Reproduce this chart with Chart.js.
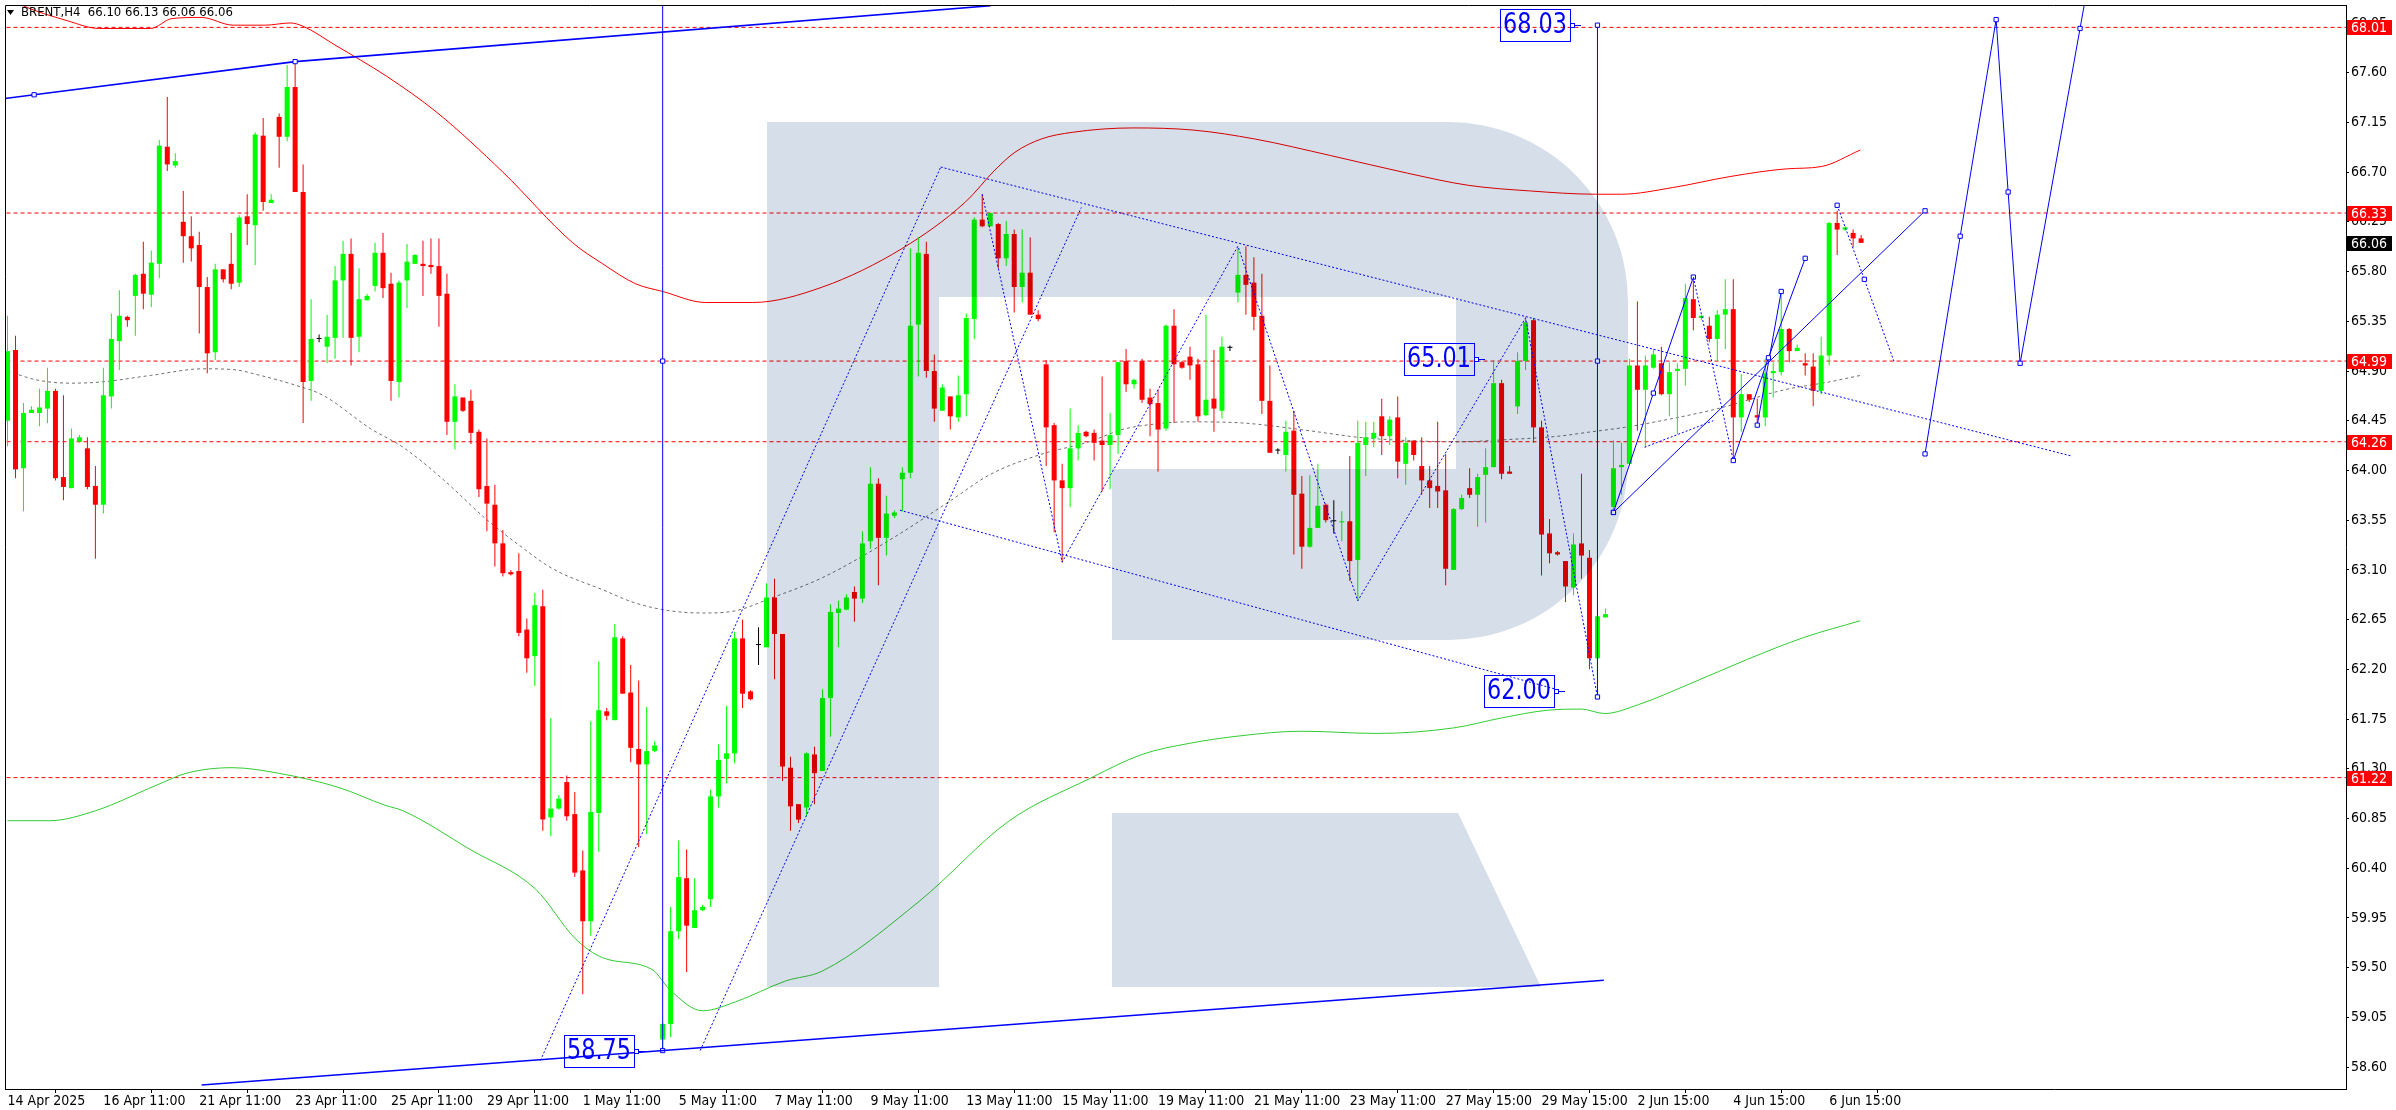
<!DOCTYPE html>
<html>
<head>
<meta charset="utf-8">
<script src="https://cdn.jsdelivr.net/npm/chart.js@4.4.1/dist/chart.umd.min.js"></script>
<style>
  html, body { margin: 0; padding: 0; background: #fff; }
  #wrap { width: 2396px; height: 1110px; position: relative; }
</style>
</head>
<body>
<div id="wrap"><canvas id="brentChart"></canvas></div>
<script>
// BRENT H4 candles, one per bar index (0 = 14 Apr 2025)
var candleOpen = [
  64.45, 65.09, 64.02, 64.52, 64.52, 64.56, 64.72, 63.94, 63.84, 64.26,
  64.20, 63.86, 63.69, 64.67, 65.17, 65.39, 65.58, 65.78, 65.59, 65.87,
  66.93, 66.76, 66.25, 66.12, 66.04, 65.66, 65.07, 65.82, 65.87, 65.70,
  66.30, 66.22, 67.03, 66.42, 67.20, 67.02, 67.47, 66.52, 64.81, 65.19,
  65.12, 65.20, 65.72, 65.96, 65.21, 65.54, 65.67, 65.97, 65.69, 64.80,
  65.72, 65.87, 65.87, 65.86, 65.85, 65.60, 64.44, 64.66, 64.63, 64.35,
  63.86, 63.69, 63.34, 63.08, 63.09, 62.56, 62.32, 62.77, 60.86, 60.94,
  61.18, 60.89, 60.38, 59.92, 60.90, 61.82, 61.74, 62.48, 61.99, 61.48,
  61.34, 61.46, 58.85, 58.99, 59.83, 60.31, 59.86, 60.02, 60.12, 61.05,
  61.39, 61.44, 62.48, 62.00, 62.42, 62.40, 62.85, 62.52, 61.31, 60.98,
  60.95, 61.43, 61.28, 61.94, 62.71, 62.74, 62.90, 62.84, 63.36, 63.88,
  63.39, 63.59, 63.92, 63.98, 65.32, 65.96, 64.90, 64.54, 64.67, 64.48,
  64.69, 65.37, 66.27, 66.21, 66.23, 65.92, 66.14, 65.66, 65.79, 65.41,
  64.96, 64.41, 63.91, 63.84, 64.20, 64.35, 64.34, 64.27, 64.23, 64.32,
  64.99, 64.78, 64.99, 64.66, 64.61, 64.38, 65.31, 64.98, 65.03, 64.96,
  64.50, 64.65, 64.54, 65.11, 65.61, 65.77, 65.70, 65.40, 64.63, 64.18,
  64.14, 64.36, 63.79, 63.31, 63.48, 63.69, 63.54, 63.53, 63.54, 63.19,
  64.23, 64.29, 64.49, 64.31, 64.48, 64.06, 64.27, 64.04, 63.91, 63.86,
  63.82, 63.10, 63.65, 63.84, 63.78, 63.96, 64.03, 64.79, 63.99, 64.58,
  64.99, 65.36, 64.39, 63.43, 63.26, 63.18, 62.94, 63.34, 63.21, 62.30,
  62.67, 63.67, 64.03, 64.06, 64.95, 64.73, 64.93, 64.97, 64.69, 64.90,
  64.92, 65.55, 65.38, 65.31, 65.19, 65.41, 65.46, 64.48, 64.69, 64.50,
  64.48, 64.88, 64.89, 65.28, 65.08, 64.97, 64.94, 64.72, 65.04, 66.24,
  66.18, 66.15, 66.10
];
var candleHigh = [
  65.40, 65.22, 64.61, 64.58, 64.74, 64.93, 64.74, 64.68, 64.38, 64.32,
  64.30, 64.04, 64.93, 65.42, 65.63, 65.40, 65.78, 66.07, 65.99, 66.99,
  67.38, 66.87, 66.53, 66.30, 66.16, 65.75, 65.87, 65.82, 66.15, 66.31,
  66.50, 67.06, 67.19, 66.50, 67.23, 67.67, 67.70, 66.77, 65.55, 65.23,
  65.41, 65.85, 66.08, 66.10, 65.83, 65.60, 66.06, 66.15, 65.79, 65.72,
  66.05, 65.96, 66.08, 66.10, 66.10, 65.78, 64.78, 64.66, 64.73, 64.37,
  64.29, 63.87, 63.46, 63.10, 63.25, 62.66, 62.89, 62.92, 61.76, 61.06,
  61.24, 61.09, 60.56, 61.73, 62.27, 61.85, 62.61, 62.50, 62.24, 62.10,
  61.86, 61.55, 59.00, 60.05, 60.65, 60.57, 60.31, 60.07, 61.11, 61.52,
  61.87, 62.54, 62.65, 62.01, 62.58, 62.98, 63.02, 62.52, 61.41, 60.98,
  61.45, 61.50, 62.02, 62.79, 62.82, 62.88, 62.95, 63.45, 64.03, 63.93,
  63.77, 63.64, 64.03, 66.01, 66.11, 66.07, 65.05, 64.78, 64.67, 64.86,
  65.42, 66.29, 66.50, 66.33, 66.24, 66.26, 66.18, 66.18, 66.11, 65.45,
  65.00, 64.43, 64.06, 64.56, 64.41, 64.36, 64.37, 64.85, 64.52, 64.98,
  65.10, 64.83, 65.01, 64.74, 64.73, 65.32, 65.46, 64.99, 65.12, 65.01,
  65.41, 65.09, 65.21, 65.13, 66.01, 66.03, 65.93, 65.78, 64.95, 64.20,
  64.45, 64.54, 63.95, 63.96, 64.06, 63.70, 63.73, 63.63, 64.13, 64.45,
  64.44, 64.44, 64.65, 64.49, 64.67, 64.30, 64.27, 64.30, 64.04, 64.44,
  64.15, 63.66, 63.78, 64.02, 63.97, 64.20, 65.00, 64.82, 64.04, 65.07,
  65.39, 65.38, 64.45, 63.56, 63.27, 63.18, 63.43, 63.97, 63.28, 62.70,
  62.75, 64.27, 64.25, 65.01, 65.53, 65.04, 65.10, 65.12, 64.98, 64.97,
  65.69, 65.75, 65.41, 65.39, 65.45, 65.73, 65.73, 64.87, 64.69, 64.65,
  65.01, 64.98, 65.61, 65.29, 65.14, 65.06, 65.06, 65.21, 66.25, 66.35,
  66.21, 66.18, 66.13
];
var candleLow = [
  64.22, 63.93, 63.63, 64.52, 64.40, 64.43, 63.91, 63.73, 63.84, 64.25,
  63.83, 63.20, 63.61, 64.56, 64.91, 65.30, 65.22, 65.46, 65.48, 65.74,
  66.71, 66.74, 65.88, 65.89, 65.24, 64.88, 65.00, 65.70, 65.64, 65.66,
  66.04, 65.86, 66.35, 66.42, 66.74, 66.98, 66.52, 64.43, 64.63, 65.16,
  64.97, 65.01, 65.20, 64.95, 65.07, 65.54, 65.62, 65.56, 64.63, 64.66,
  65.47, 65.87, 65.58, 65.78, 65.30, 64.32, 64.19, 64.53, 64.24, 63.76,
  63.45, 63.13, 63.04, 63.05, 62.50, 62.17, 62.05, 60.74, 60.69, 60.93,
  60.83, 60.32, 59.26, 59.79, 60.55, 61.74, 61.74, 61.98, 61.36, 60.59,
  60.71, 61.45, 58.75, 58.87, 59.76, 59.46, 59.86, 60.01, 60.05, 60.95,
  61.17, 61.35, 61.85, 61.92, 62.24, 62.40, 62.11, 61.19, 60.74, 60.81,
  60.87, 60.98, 61.28, 61.59, 62.40, 62.74, 62.63, 62.80, 63.29, 62.96,
  63.23, 63.57, 63.63, 63.93, 64.85, 64.84, 64.44, 64.54, 64.37, 64.44,
  64.49, 65.19, 66.20, 66.21, 65.83, 65.85, 65.43, 65.52, 65.41, 65.35,
  64.04, 63.44, 63.17, 63.67, 64.09, 64.30, 64.09, 63.81, 63.83, 64.15,
  64.71, 64.74, 64.61, 64.31, 63.99, 64.36, 64.43, 64.92, 64.82, 64.44,
  64.49, 64.35, 64.47, 65.08, 65.52, 65.41, 65.27, 64.51, 64.16, 64.15,
  63.99, 63.24, 63.11, 63.30, 63.48, 63.53, 63.43, 63.36, 63.00, 62.82,
  63.95, 64.21, 64.14, 64.23, 63.93, 63.87, 64.09, 63.78, 63.66, 63.66,
  62.96, 63.10, 63.64, 63.75, 63.49, 63.53, 64.03, 63.92, 63.97, 64.51,
  64.91, 64.25, 63.05, 63.16, 63.23, 62.81, 62.87, 63.02, 62.20, 61.95,
  62.67, 63.62, 63.78, 64.06, 64.36, 64.21, 64.92, 64.68, 64.49, 64.33,
  64.77, 65.27, 65.36, 65.16, 64.99, 65.10, 64.11, 64.35, 64.62, 64.42,
  64.40, 64.66, 64.86, 64.98, 65.08, 64.86, 64.58, 64.69, 64.95, 65.95,
  66.17, 66.02, 66.06
];
var candleClose = [
  65.08, 64.01, 64.52, 64.55, 64.57, 64.72, 63.93, 63.85, 64.29, 64.30,
  63.85, 63.69, 64.68, 65.19, 65.40, 65.36, 65.77, 65.60, 65.88, 66.94,
  66.77, 66.80, 66.12, 66.01, 65.66, 65.06, 65.82, 65.73, 65.69, 66.29,
  66.23, 67.04, 66.43, 66.45, 67.02, 67.47, 66.52, 64.80, 65.19, 65.19,
  65.21, 65.72, 65.96, 65.20, 65.55, 65.58, 65.97, 65.65, 64.81, 65.70,
  65.89, 65.95, 65.85, 65.84, 65.58, 64.44, 64.67, 64.54, 64.34, 63.83,
  63.70, 63.34, 63.07, 63.06, 62.53, 62.30, 62.78, 60.84, 60.94, 61.03,
  60.87, 60.36, 59.92, 60.91, 61.83, 61.78, 62.49, 61.98, 61.49, 61.34,
  61.46, 61.51, 58.99, 59.83, 60.32, 59.88, 60.02, 60.05, 61.05, 61.38,
  61.44, 62.48, 61.98, 61.93, 62.42, 62.85, 62.52, 61.32, 60.96, 60.84,
  61.44, 61.26, 61.94, 62.72, 62.75, 62.85, 62.84, 63.34, 63.88, 63.39,
  63.61, 63.62, 63.98, 65.31, 65.97, 64.90, 64.56, 64.75, 64.49, 64.68,
  65.38, 66.27, 66.21, 66.33, 65.92, 66.14, 65.66, 65.79, 65.41, 65.37,
  64.39, 63.91, 63.84, 64.20, 64.34, 64.31, 64.25, 64.23, 64.32, 64.98,
  64.78, 64.82, 64.64, 64.60, 64.37, 65.31, 64.96, 64.93, 64.95, 64.49,
  64.64, 64.56, 65.12, 65.11, 65.77, 65.68, 65.39, 64.63, 64.16, 64.18,
  64.35, 63.78, 63.31, 63.48, 63.68, 63.55, 63.54, 63.54, 63.18, 64.25,
  64.30, 64.34, 64.31, 64.46, 64.08, 64.25, 64.14, 63.91, 63.84, 63.81,
  63.11, 63.65, 63.75, 63.78, 63.94, 64.03, 64.79, 63.97, 63.97, 64.99,
  65.34, 64.39, 63.42, 63.25, 63.24, 62.95, 63.33, 63.23, 62.30, 62.68,
  62.70, 64.02, 64.05, 64.95, 64.73, 64.95, 65.05, 64.69, 64.89, 64.92,
  65.56, 65.38, 65.40, 65.19, 65.41, 65.46, 64.48, 64.69, 64.64, 64.48,
  64.88, 64.90, 65.28, 65.08, 65.11, 64.95, 64.72, 65.04, 66.24, 66.18,
  66.20, 66.10, 66.06
];

// axis ticks
var xTickIndex = [0, 12, 24, 36, 48, 60, 72, 84, 96, 108, 120, 132, 144, 156, 168, 180, 192, 204, 216, 228];
var xTickLabels = ['14 Apr 2025', '16 Apr 11:00', '21 Apr 11:00', '23 Apr 11:00', '25 Apr 11:00', '29 Apr 11:00',
  '1 May 11:00', '5 May 11:00', '7 May 11:00', '9 May 11:00', '13 May 11:00', '15 May 11:00', '19 May 11:00',
  '21 May 11:00', '23 May 11:00', '27 May 15:00', '29 May 15:00', '2 Jun 15:00', '4 Jun 15:00', '6 Jun 15:00'];
var yTickValues = [58.60, 59.05, 59.50, 59.95, 60.40, 60.85, 61.30, 61.75, 62.20, 62.65, 63.10,
  63.55, 64.00, 64.45, 64.90, 65.35, 65.80, 66.25, 66.70, 67.15, 67.60, 68.05];

// horizontal levels and the last price
var levelPrices = [68.01, 66.33, 64.99, 64.26, 61.22];
var lastPrice = 66.06;
var titleText = 'BRENT,H4  66.10 66.13 66.06 66.06';

// moving averages, read at sample bars
var redMaK = [0.1, 1.5, 7.5, 11.5, 17.9, 20.6, 24.25, 28.25, 32.25, 35.4, 37, 41, 47.4, 53.75, 62, 70.75, 74.5,
  78.6, 82, 87.4, 93.25, 102, 112, 119.9, 123.6, 126.1, 129.4, 133.25, 140.9, 148.5, 156.1, 165.6, 175.25,
  182.9, 190.5, 198.75, 202, 208.4, 215.6, 222.75, 227, 231.9];
var redMaPrice = [68.28, 68.22, 68.07, 68.00, 68.00, 68.09, 68.10, 68.03, 68.03, 68.05, 68.02, 67.85, 67.57,
  67.24, 66.70, 66.06, 65.87, 65.69, 65.62, 65.52, 65.52, 65.66, 66.01, 66.43, 66.72, 66.88, 67.00, 67.06,
  67.10, 67.08, 67.00, 66.85, 66.69, 66.58, 66.53, 66.50, 66.50, 66.56, 66.66, 66.73, 66.75, 66.90];
var greenMaK = [0, 5.25, 11, 18.6, 22.4, 28.1, 33.9, 41.5, 47.25, 49.5, 57.9, 66.1, 71.1, 74.5, 80.75, 82.9, 87,
  91.1, 97.4, 102, 114.1, 125.4, 135.4, 142, 147.9, 154.5, 161.9, 171.4, 181, 187, 192.75, 197, 199.9, 204.1,
  210.6, 217.75, 224.9, 231.9];
var greenMaPrice = [60.83, 60.83, 60.92, 61.15, 61.26, 61.31, 61.26, 61.13, 60.97, 60.92, 60.57, 60.21, 59.76,
  59.59, 59.48, 59.30, 59.11, 59.19, 59.38, 59.47, 60.10, 60.83, 61.21, 61.43, 61.53, 61.60, 61.64, 61.62,
  61.67, 61.76, 61.83, 61.84, 61.80, 61.88, 62.07, 62.29, 62.49, 62.64];
var greyMaK = [0, 3.6, 7.9, 11.6, 17.9, 24.5, 28.6, 31.1, 36.1, 39.5, 45.4, 49.5, 54.5, 59.9, 64.1, 68.25, 74.5,
  78.6, 82.9, 87, 91.1, 95.4, 102, 110.4, 117.9, 122.9, 129.1, 135.4, 139.5, 143.6, 147.9, 154.5, 162.9, 169.1,
  175.4, 181.6, 187.9, 194.1, 198.25, 202.4, 207, 214.1, 222.4, 227.9, 231.9];
var greyMaPrice = [64.90, 64.82, 64.79, 64.80, 64.86, 64.92, 64.91, 64.87, 64.77, 64.68, 64.38, 64.21, 63.92,
  63.56, 63.32, 63.11, 62.92, 62.80, 62.73, 62.71, 62.73, 62.84, 63.03, 63.37, 63.72, 63.96, 64.14, 64.26,
  64.37, 64.42, 64.44, 64.43, 64.36, 64.30, 64.27, 64.26, 64.28, 64.31, 64.35, 64.39, 64.45, 64.56, 64.73,
  64.80, 64.86];

// drawn objects: [bar index, price]
var trendTop1 = [[-0.5, 67.365], [3.33, 67.40], [36, 67.70]];
var trendTop2 = [[36, 67.70], [123.06, 68.206]];
var trendBottom = [[24.3, 58.438], [199.8, 59.386]];
var vLineA = [[82, 58.75], [82, 64.99], [82, 68.6]];
var vLineB = [[199, 61.95], [199, 64.99], [199, 68.03]];
var channel1 = [[66.7, 58.66], [116.8, 66.746]];
var channel2 = [[86.7, 58.75], [134.4, 66.38]];
var channel3 = [[116.8, 66.746], [258.2, 64.133]];
var channel4 = [[111.7, 63.64], [193.8, 62.02]];
var zigzag = [[122, 66.50], [132, 63.17], [154, 66.03], [169, 62.82], [190, 65.38], [199, 61.95]];
var shortDot = [[204.9, 64.21], [213.5, 64.45]];
var waveA = [[201, 63.62], [206, 64.70], [211, 65.75]];
var waveB = [[201, 63.62], [240, 66.35]];
var waveC = [[216, 64.09], [220.4, 65.02], [225, 65.92]];
var waveD = [[219, 64.41], [222, 65.62]];
var dropF = [[211, 65.75], [216, 64.09]];
var dropG = [[229, 66.40], [232.4, 65.73], [236.1, 64.99]];
var forecast = [[240, 64.15], [244.4, 66.12], [248.9, 68.08], [250.4, 66.52], [251.9, 64.97], [259.4, 68.00], [261, 68.65]];

// price labels drawn on the chart
var tagPrices = [68.03, 65.01, 62.00, 58.75];
var tagK = [195.8, 183.8, 193.8, 78.7];

var FONT = '"Liberation Sans Narrow", "DejaVu Sans Condensed", "Liberation Sans", sans-serif';
var BLUE = '#0000ff';

function candleColor(k) {
  if (candleClose[k] > candleOpen[k]) return '#00ff00';
  if (candleClose[k] < candleOpen[k]) return '#ff0000';
  return '#000000';
}
var barColors = candleOpen.map(function (o, k) { return candleColor(k); });
var wickData = candleOpen.map(function (o, k) { return { x: k, y: [candleLow[k], candleHigh[k]] }; });
var bodyData = candleOpen.map(function (o, k) {
  return { x: k, y: [Math.min(o, candleClose[k]), Math.max(o, candleClose[k])] };
});

function pts(arr) { return arr.map(function (p) { return { x: p[0], y: p[1] }; }); }
function pairs(ks, ps) { return ks.map(function (k, i) { return { x: k, y: ps[i] }; }); }

function blueLine(arr, width, dash, marks) {
  return {
    type: 'line',
    data: pts(arr),
    borderColor: BLUE,
    borderWidth: width,
    borderDash: dash,
    tension: 0,
    pointStyle: 'rect',
    pointRadius: marks ? marks.map(function (m) { return m ? 3 : 0; }) : 0,
    pointBackgroundColor: '#ffffff',
    pointBorderColor: BLUE,
    pointBorderWidth: 1,
    order: 5
  };
}

var datasets = [];
levelPrices.forEach(function (p) {
  datasets.push({
    type: 'line', data: [{ x: -1, y: p }, { x: 300, y: p }],
    borderColor: '#ff0000', borderWidth: 1, borderDash: [4, 3], pointRadius: 0, order: 60
  });
});
datasets.push({ type: 'line', data: pairs(redMaK, redMaPrice), borderColor: '#ff0000', borderWidth: 1,
  pointRadius: 0, cubicInterpolationMode: 'monotone', order: 50 });
datasets.push({ type: 'line', data: pairs(greenMaK, greenMaPrice), borderColor: '#32cd32', borderWidth: 1,
  pointRadius: 0, cubicInterpolationMode: 'monotone', order: 50 });
datasets.push({ type: 'line', data: pairs(greyMaK, greyMaPrice), borderColor: '#707070', borderWidth: 1,
  borderDash: [3, 3], pointRadius: 0, cubicInterpolationMode: 'monotone', order: 50 });
datasets.push({ type: 'bar', data: wickData, backgroundColor: barColors, barThickness: 1, grouped: false,
  minBarLength: 1, borderWidth: 0, inflateAmount: 0, order: 40 });
datasets.push({ type: 'bar', data: bodyData, backgroundColor: barColors, barThickness: 5, grouped: false,
  minBarLength: 1, borderWidth: 0, inflateAmount: 0, order: 35 });

datasets.push(blueLine(trendTop1, 1.6, [], [0, 1, 1]));
datasets.push(blueLine(trendTop2, 1.6, []));
datasets.push(blueLine(trendBottom, 1.6, []));
datasets.push(blueLine(vLineA, 1, [], [1, 1, 0]));
datasets.push(blueLine(vLineB, 1, [], [1, 1, 1]));
[channel1, channel2, channel3, channel4, zigzag, shortDot, dropF].forEach(function (a) {
  datasets.push(blueLine(a, 1, [2, 2]));
});
datasets.push(blueLine(dropG, 1, [2, 2], [1, 1, 0]));
datasets.push(blueLine(waveA, 1, [], [1, 1, 1]));
datasets.push(blueLine(waveB, 1, [], [1, 1]));
datasets.push(blueLine(waveC, 1, [], [1, 1, 1]));
datasets.push(blueLine(waveD, 1, [], [1, 1]));
datasets.push(blueLine(forecast, 1, [], [1, 1, 1, 1, 1, 1, 0]));

// watermark shape (pixel space) drawn with multiply like the terminal does
function drawLogo(ctx) {
  ctx.beginPath();
  ctx.moveTo(767, 122); ctx.lineTo(1448, 122);
  ctx.arcTo(1628, 122, 1628, 302, 180);
  ctx.lineTo(1628, 460);
  ctx.arcTo(1628, 640, 1448, 640, 180);
  ctx.lineTo(1112, 640); ctx.lineTo(1112, 469); ctx.lineTo(1456, 469); ctx.lineTo(1456, 297);
  ctx.lineTo(939, 297); ctx.lineTo(939, 987); ctx.lineTo(767, 987); ctx.closePath();
  ctx.moveTo(1112, 813); ctx.lineTo(1458, 813); ctx.lineTo(1541, 987); ctx.lineTo(1112, 987); ctx.closePath();
  ctx.fill();
}

function axisTag(ctx, y, text, bg) {
  var yy = Math.round(y);
  ctx.fillStyle = bg;
  ctx.fillRect(2347, yy - 7, 45, 15);
  ctx.fillStyle = '#ffffff';
  ctx.font = '14px ' + FONT;
  ctx.textAlign = 'left';
  ctx.textBaseline = 'middle';
  ctx.fillText(text, 2351, yy + 1);
}

var mtPlugin = {
  id: 'mtPlugin',
  beforeDraw: function (chart) {
    var ctx = chart.ctx;
    ctx.save();
    ctx.fillStyle = '#ffffff';
    ctx.fillRect(0, 0, chart.width, chart.height);
    ctx.restore();
  },
  afterDatasetsDraw: function (chart) {
    var ctx = chart.ctx;
    ctx.save();
    ctx.globalCompositeOperation = 'multiply';
    ctx.fillStyle = 'rgb(213,222,233)';
    drawLogo(ctx);
    ctx.restore();
  },
  afterDraw: function (chart) {
    var ctx = chart.ctx, xs = chart.scales.x, ys = chart.scales.y, a = chart.chartArea;
    ctx.save();
    // price tags with boxes
    tagPrices.forEach(function (p, i) {
      var ax = Math.round(xs.getPixelForValue(tagK[i])), ay = Math.round(ys.getPixelForValue(p));
      var w = 70, h = 32, bx = ax - 2 - w, by = ay - 16;
      ctx.strokeStyle = BLUE; ctx.lineWidth = 1;
      ctx.strokeRect(bx + 0.5, by + 0.5, w, h);
      ctx.beginPath(); ctx.moveTo(ax, ay + 0.5); ctx.lineTo(ax + 9, ay + 0.5); ctx.stroke();
      ctx.fillStyle = '#ffffff'; ctx.fillRect(ax - 2, ay - 2, 4, 4);
      ctx.strokeRect(ax - 1.5, ay - 1.5, 4, 4);
      var txt = p.toFixed(2);
      ctx.font = '28px ' + FONT;
      var tw = ctx.measureText(txt).width, target = 64;
      ctx.save();
      ctx.translate(bx + w / 2, ay + 1);
      if (tw > target) ctx.scale(target / tw, 1);
      ctx.fillStyle = BLUE; ctx.textAlign = 'center'; ctx.textBaseline = 'middle';
      ctx.fillText(txt, 0, 0);
      ctx.restore();
    });
    // chart frame (left/top)
    ctx.strokeStyle = '#000000'; ctx.lineWidth = 1;
    ctx.beginPath();
    ctx.moveTo(a.left + 0.5, a.bottom); ctx.lineTo(a.left + 0.5, a.top + 0.5); ctx.lineTo(a.right, a.top + 0.5);
    ctx.stroke();
    // right axis tags
    levelPrices.forEach(function (p) { axisTag(ctx, ys.getPixelForValue(p), p.toFixed(2), '#ff0000'); });
    axisTag(ctx, ys.getPixelForValue(lastPrice), lastPrice.toFixed(2), '#000000');
    // title
    ctx.fillStyle = '#000000';
    ctx.beginPath(); ctx.moveTo(7, 10); ctx.lineTo(14, 10); ctx.lineTo(10.5, 15); ctx.closePath(); ctx.fill();
    ctx.font = '13px ' + FONT; ctx.textAlign = 'left'; ctx.textBaseline = 'middle';
    ctx.fillText(titleText, 21, 13);
    ctx.restore();
  }
};

Chart.defaults.font.family = FONT;
Chart.defaults.font.size = 14;
Chart.defaults.color = '#000000';

new Chart(document.getElementById('brentChart'), {
  type: 'bar',
  data: { datasets: datasets },
  options: {
    responsive: true,
    maintainAspectRatio: false,
    animation: false,
    events: [],
    layout: { padding: { left: 2, top: 2, right: 0, bottom: 0 } },
    plugins: { legend: { display: false }, tooltip: { enabled: false } },
    scales: {
      x: {
        type: 'linear', position: 'bottom', min: -0.3125, max: 292.6875, offset: false, bounds: 'data',
        grid: { drawOnChartArea: false, drawTicks: true, tickLength: 4, color: '#000000' },
        border: { display: true, color: '#000000' },
        ticks: {
          autoSkip: false, maxRotation: 0, align: 'start', padding: 0, color: '#000000',
          callback: function (v) { var i = xTickIndex.indexOf(v); return i >= 0 ? xTickLabels[i] : ''; }
        },
        afterBuildTicks: function (s) { s.ticks = xTickIndex.map(function (v) { return { value: v }; }); },
        afterFit: function (s) { s.height = 21; s.paddingLeft = 0; s.paddingRight = 0; }
      },
      y: {
        type: 'linear', position: 'right', min: 58.402, max: 68.2125, bounds: 'data',
        grid: { drawOnChartArea: false, drawTicks: true, tickLength: 3, color: '#000000' },
        border: { display: true, color: '#000000' },
        ticks: {
          autoSkip: false, padding: 2, color: '#000000',
          callback: function (v) { return Number(v).toFixed(2); }
        },
        afterBuildTicks: function (s) { s.ticks = yTickValues.map(function (v) { return { value: v }; }); },
        afterFit: function (s) { s.width = 50; s.paddingTop = 0; s.paddingBottom = 0; }
      }
    }
  },
  plugins: [mtPlugin]
});
</script>
</body>
</html>
